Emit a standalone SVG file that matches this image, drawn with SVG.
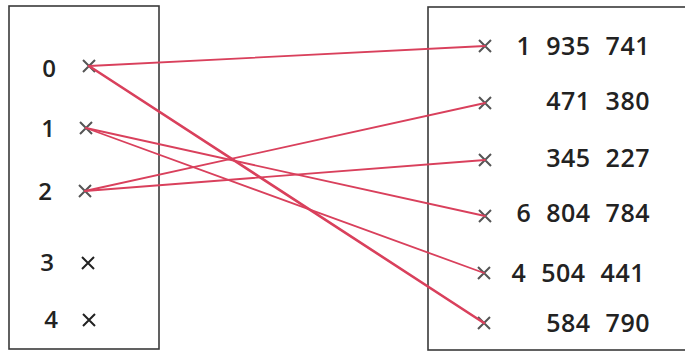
<svg xmlns="http://www.w3.org/2000/svg" width="685" height="354" viewBox="0 0 685 354">
<style>
.box{fill:none;stroke:#3a3a3a;stroke-width:1.6}
.x{stroke:#555;stroke-width:2;fill:none}
.lbl{font-family:"Open Sans","Liberation Sans",sans-serif;font-weight:600;font-size:24px;fill:#222}
.num{font-family:"Open Sans","Liberation Sans",sans-serif;font-weight:600;font-size:25px;fill:#222;word-spacing:8px;letter-spacing:0.5px}
.c{stroke:#d9405c;stroke-width:1.8;fill:none;stroke-linecap:round}
</style>
<defs>
<path id="cr" d="M-6,-6L6,6M-6,6L6,-6"/>
</defs>
<rect x="0" y="0" width="685" height="354" fill="#ffffff"/>
<g id="domain">
<rect class="box" x="9" y="6" width="150" height="343"/>
<g id="d0"><text class="lbl" x="49" y="77" text-anchor="middle">0</text><use href="#cr" class="x" x="89" y="66"/></g>
<g id="d1"><text class="lbl" x="48" y="137" text-anchor="middle">1</text><use href="#cr" class="x" x="86" y="128"/></g>
<g id="d2"><text class="lbl" x="45" y="200" text-anchor="middle">2</text><use href="#cr" class="x" x="85" y="191"/></g>
<g id="d3"><text class="lbl" x="47" y="271" text-anchor="middle">3</text><use href="#cr" class="x" x="88" y="263" style="stroke:#222"/></g>
<g id="d4"><text class="lbl" x="51" y="328" text-anchor="middle">4</text><use href="#cr" class="x" x="89" y="320" style="stroke:#222"/></g>
</g>
<g id="codomain">
<rect class="box" x="428" y="7" width="262" height="343"/>
<g id="r1"><use href="#cr" class="x" x="485" y="46"/><text class="num" x="650" y="55" text-anchor="end">1 935 741</text></g>
<g id="r2"><use href="#cr" class="x" x="485" y="103"/><text class="num" x="650" y="110" text-anchor="end">471 380</text></g>
<g id="r3"><use href="#cr" class="x" x="485" y="160"/><text class="num" x="650" y="167" text-anchor="end">345 227</text></g>
<g id="r4"><use href="#cr" class="x" x="485" y="216"/><text class="num" x="650" y="222" text-anchor="end">6 804 784</text></g>
<g id="r5"><use href="#cr" class="x" x="484" y="273"/><text class="num" x="645" y="282" text-anchor="end">4 504 441</text></g>
<g id="r6"><use href="#cr" class="x" x="484" y="323"/><text class="num" x="650" y="332" text-anchor="end">584 790</text></g>
</g>
<g id="connectors">
<line class="c" x1="89" y1="66" x2="485" y2="46"/>
<line class="c" x1="89" y1="66" x2="484" y2="323" style="stroke-width:2.6"/>
<line class="c" x1="86" y1="128" x2="485" y2="216"/>
<line class="c" x1="86" y1="128" x2="484" y2="273"/>
<line class="c" x1="85" y1="191" x2="485" y2="103"/>
<line class="c" x1="85" y1="191" x2="485" y2="160"/>
</g>
</svg>
